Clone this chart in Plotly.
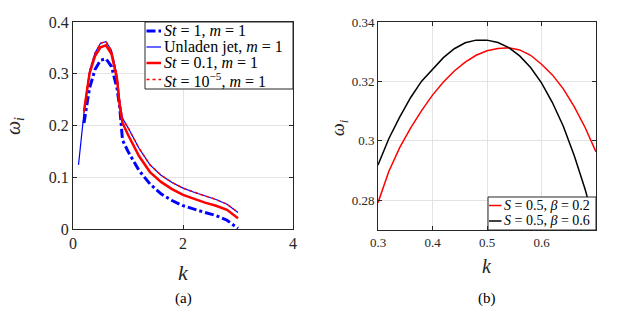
import plotly.graph_objects as go

# ---------- panel (a) data ----------
k_a = [0.2, 0.3, 0.4, 0.5, 0.6, 0.7, 0.8, 0.85, 0.9, 1.0, 1.2, 1.4, 1.6, 1.8, 2.0, 2.2, 2.4, 2.6, 2.8, 3.0]
w_st1 = [0.205, 0.272, 0.308, 0.326, 0.329, 0.314, 0.272, 0.235, 0.172, 0.150, 0.113, 0.087, 0.068, 0.055, 0.045, 0.038, 0.032, 0.026, 0.017, 0.001]
k_unladen = [0.1, 0.2, 0.3, 0.4, 0.5, 0.6, 0.7, 0.8, 0.85, 0.9, 1.0, 1.2, 1.4, 1.6, 1.8, 2.0, 2.2, 2.4, 2.6, 2.8, 3.0]
w_unladen = [0.124, 0.225, 0.305, 0.340, 0.359, 0.362, 0.345, 0.297, 0.245, 0.214, 0.196, 0.156, 0.124, 0.104, 0.090, 0.079, 0.071, 0.064, 0.057, 0.048, 0.032]
w_st01 = [0.228, 0.300, 0.334, 0.351, 0.355, 0.338, 0.290, 0.237, 0.205, 0.182, 0.141, 0.110, 0.091, 0.077, 0.066, 0.058, 0.051, 0.045, 0.037, 0.021]
w_st1e5 = [0.225, 0.305, 0.340, 0.359, 0.362, 0.345, 0.297, 0.245, 0.214, 0.196, 0.156, 0.124, 0.104, 0.090, 0.079, 0.071, 0.064, 0.057, 0.048, 0.032]
names_a = ["<i>St</i> = 1, <i>m</i> = 1", "Unladen jet, <i>m</i> = 1",
           "<i>St</i> = 0.1, <i>m</i> = 1", "<i>St</i> = 10<sup>−5</sup>, <i>m</i> = 1"]

# ---------- panel (b) data ----------
k_b = [0.30, 0.32, 0.34, 0.36, 0.38, 0.40, 0.42, 0.44, 0.46, 0.48, 0.50, 0.52, 0.54, 0.56, 0.58, 0.60, 0.62, 0.64, 0.66, 0.68, 0.70]
w_beta02 = [0.2792, 0.2898, 0.2978, 0.3044, 0.3102, 0.3154, 0.3198, 0.3235, 0.3265, 0.3288, 0.3303, 0.3311, 0.3313, 0.3306, 0.3288, 0.3258, 0.3222, 0.3175, 0.3115, 0.3045, 0.2963]
w_beta06 = [0.2919, 0.3008, 0.3081, 0.3146, 0.3201, 0.3240, 0.3280, 0.3310, 0.3330, 0.3339, 0.3339, 0.3331, 0.3314, 0.3286, 0.3247, 0.3195, 0.3129, 0.3049, 0.2951, 0.2837, 0.2704]
names_b = ["<i>S</i> = 0.5, <i>β</i> = 0.2", "<i>S</i> = 0.5, <i>β</i> = 0.6"]

FONT = "Liberation Serif, Times New Roman, Times, DejaVu Serif, serif"
W, H = 623, 312
AXC = "#262626"

styles_a = [dict(color="#0000ff", width=3, dash="dashdot"),
            dict(color="#0000ff", width=1.2),
            dict(color="#ff0000", width=2.5),
            dict(color="#ff0000", width=1.5, dash="dot")]
xs_a = [k_a, k_unladen, k_a, k_a]
ys_a = [w_st1, w_unladen, w_st01, w_st1e5]

styles_b = [dict(color="#ff0000", width=1.5), dict(color="#000000", width=1.5)]
ys_b = [w_beta02, w_beta06]

fig = go.Figure()
for xs, ys, nm, st in zip(xs_a, ys_a, names_a, styles_a):
    fig.add_trace(go.Scatter(x=xs, y=ys, mode="lines", name=nm, line=st,
                             xaxis="x", yaxis="y", showlegend=False))
for ys, nm, st in zip(ys_b, names_b, styles_b):
    fig.add_trace(go.Scatter(x=k_b, y=ys, mode="lines", name=nm, line=st,
                             xaxis="x2", yaxis="y2", showlegend=False))


def axis(size, **kw):
    d = dict(showline=True, mirror="ticks", linecolor=AXC, linewidth=1,
             ticks="inside", ticklen=4, tickcolor=AXC, automargin=False,
             showgrid=True, gridcolor="#e3e3e3", gridwidth=1, zeroline=False,
             tickfont=dict(family=FONT, size=size, color=AXC))
    d.update(kw)
    return d


def px(x):
    return x / W


def py(y):
    return (H - y) / H


xa_dom = [px(73), px(293)]
ya_dom = [py(229), py(22)]
xb_dom = [px(378), px(596)]
yb_dom = [py(230), py(22)]

shapes = []
annotations = []


def legend_box(left, right, top, bottom, rows, names, styles, sample, text_x, size):
    shapes.append(dict(type="rect", xref="paper", yref="paper", x0=px(left), x1=px(right),
                       y0=py(bottom), y1=py(top), fillcolor="white",
                       line=dict(color=AXC, width=1), layer="above"))
    for ry, nm, st in zip(rows, names, styles):
        shapes.append(dict(type="line", xref="paper", yref="paper", x0=px(sample[0]), x1=px(sample[1]),
                           y0=py(ry), y1=py(ry), line=st, layer="above"))
        annotations.append(dict(text=nm, x=px(text_x), y=py(ry), xref="paper", yref="paper",
                                xanchor="left", yanchor="middle", showarrow=False,
                                font=dict(family=FONT, size=size, color="black")))


legend_box(145, 293, 22, 89, [31, 47, 63, 79.5], names_a, styles_a, (146.5, 161), 162, 16)
legend_box(488, 596, 197, 230, [205.5, 221], names_b, styles_b, (489, 501.5), 502, 14)


def lab(text, x, y, size, angle=0, color=AXC):
    return dict(text=text, x=px(x), y=py(y), xref="paper", yref="paper",
                xanchor="center", yanchor="middle", showarrow=False, textangle=angle,
                font=dict(family=FONT, size=size, color=color))


annotations += [
    lab("<i>ω<sub>i</sub></i>", 14, 126, 20, -90),
    lab("<i>k</i>", 183, 272, 22),
    lab("(a)", 183, 298, 15, color="black"),
    lab("<i>ω<sub>i</sub></i>", 339, 127, 18, -90),
    lab("<i>k</i>", 487, 266, 20),
    lab("(b)", 487, 298, 15, color="black"),
]

fig.update_layout(
    template="none",
    width=W, height=H,
    margin=dict(l=0, r=0, t=0, b=0, pad=0),
    paper_bgcolor="white", plot_bgcolor="white",
    font=dict(family=FONT, color=AXC),
    showlegend=False,
    xaxis=axis(16, domain=xa_dom, range=[0, 4], tickvals=[0, 2, 4], ticktext=["0", "2", "4"], anchor="y"),
    yaxis=axis(16, domain=ya_dom, range=[0, 0.4], tickvals=[0, 0.1, 0.2, 0.3, 0.4],
               ticktext=["0", "0.1", "0.2", "0.3", "0.4"], anchor="x"),
    xaxis2=axis(13, domain=xb_dom, range=[0.3, 0.7], tickvals=[0.3, 0.4, 0.5, 0.6],
                ticktext=["0.3", "0.4", "0.5", "0.6"], anchor="y2"),
    yaxis2=axis(13, domain=yb_dom, range=[0.27, 0.34], tickvals=[0.28, 0.30, 0.32, 0.34],
                ticktext=["0.28", "0.3", "0.32", "0.34"], anchor="x2"),
    shapes=shapes,
    annotations=annotations,
)

fig.write_html("out.html", config={"displayModeBar": False},
               post_script="document.body.style.margin='0px';")
